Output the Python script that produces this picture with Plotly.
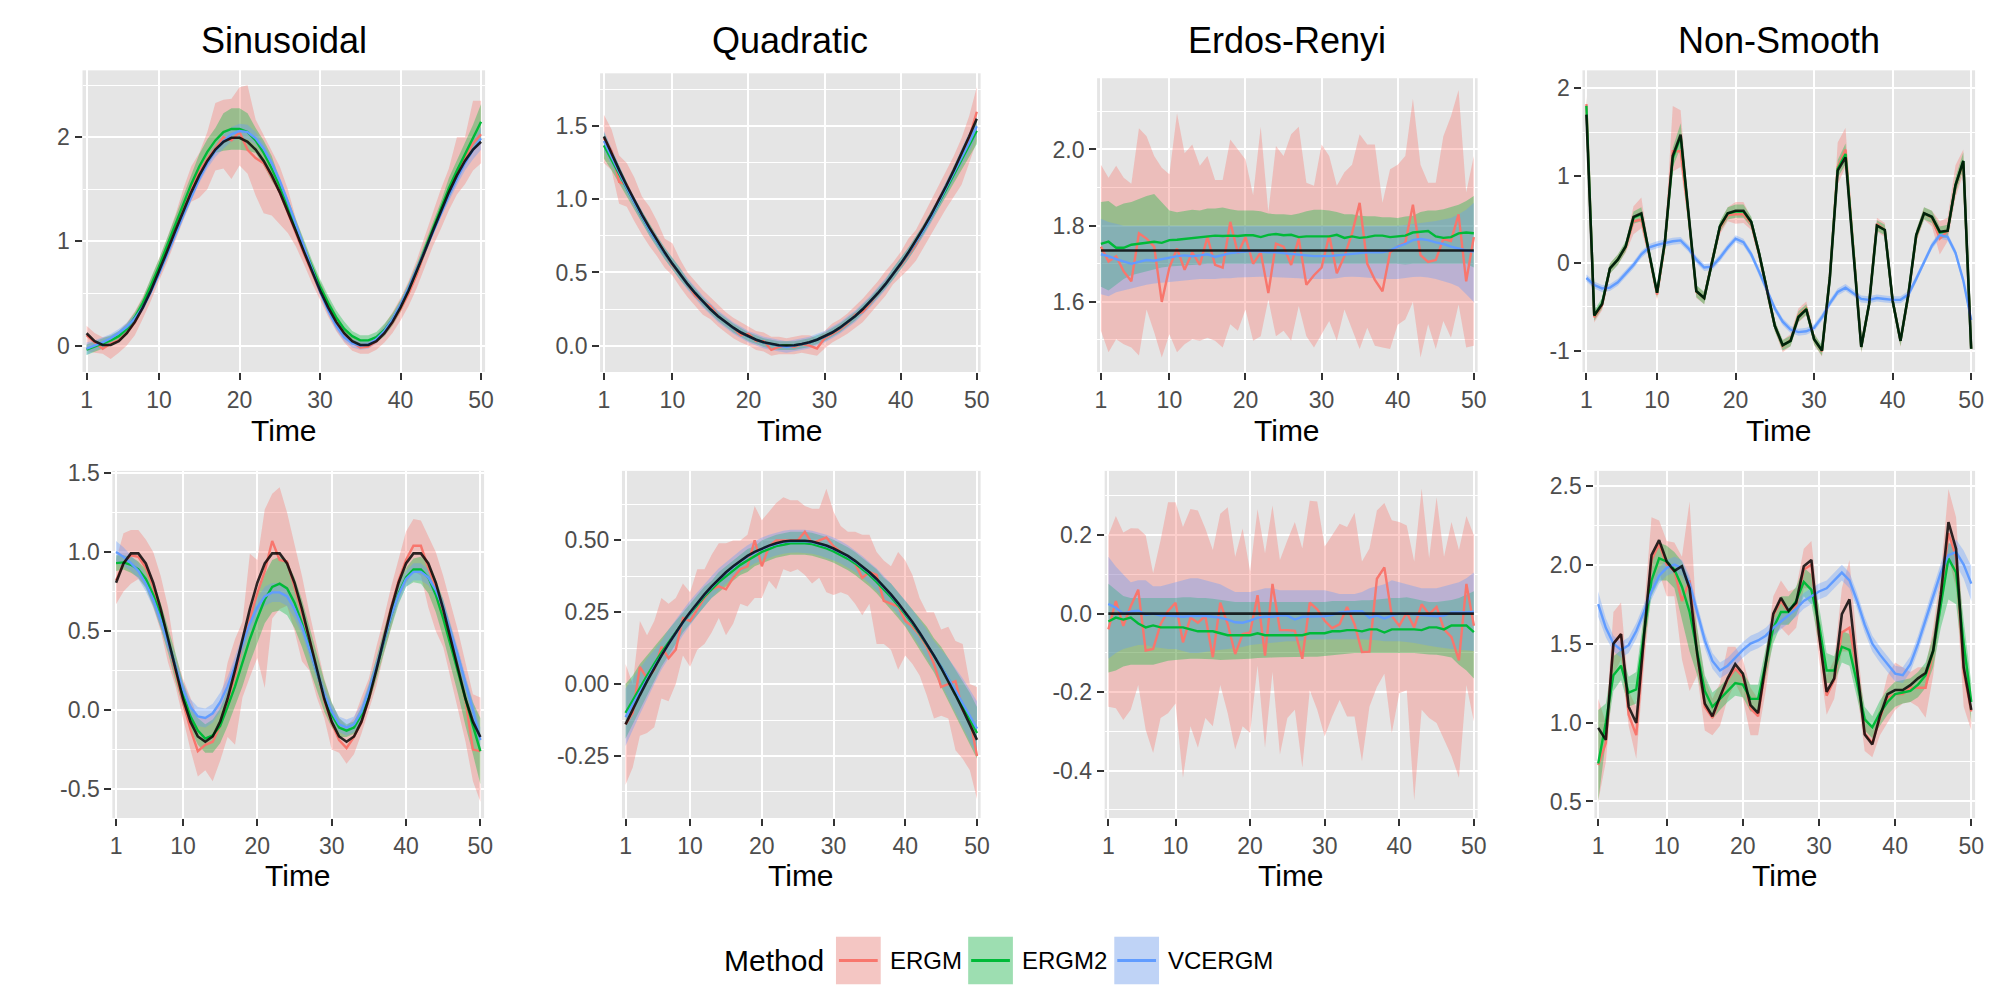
import plotly.graph_objects as go

TIME = list(range(1, 51))
X_TICKS = [1, 10, 20, 30, 40, 50]
X_TICK_TEXT = ["1", "10", "20", "30", "40", "50"]
PANEL_TITLES = ["Sinusoidal", "Quadratic", "Erdos-Renyi", "Non-Smooth"]
METHODS = ["ERGM", "ERGM2", "VCERGM"]
LEGEND_TITLE = "Method"
X_TITLE = "Time"

# ---------------- Sinusoidal (row 1) ----------------
SIN1_TRUE = [0.118,0.043,0.005,0.005,0.043,0.118,0.227,0.366,0.529,0.710,
             0.902,1.098,1.290,1.471,1.634,1.773,1.882,1.957,1.995,1.995,
             1.957,1.882,1.773,1.634,1.471,1.290,1.098,0.902,0.710,0.529,
             0.366,0.227,0.118,0.043,0.005,0.005,0.043,0.118,0.227,0.366,
             0.529,0.710,0.902,1.098,1.290,1.471,1.634,1.773,1.882,1.957]
SIN1_ERGM = [0.10,0.03,-0.03,0.02,0.05,0.12,0.22,0.37,0.55,0.73,
             0.92,1.12,1.33,1.50,1.67,1.79,1.90,2.00,1.97,2.05,
             1.88,1.80,1.75,1.62,1.47,1.28,1.08,0.88,0.70,0.52,
             0.36,0.22,0.10,0.03,-0.02,-0.01,0.04,0.12,0.22,0.35,
             0.50,0.68,0.90,1.10,1.30,1.50,1.66,1.80,1.94,2.03]
SIN1_ERGM_LO = [-0.05,-0.07,-0.08,-0.13,-0.07,0.00,0.10,0.26,0.43,0.62,
                0.80,1.00,1.20,1.38,1.42,1.50,1.68,1.70,1.60,1.73,
                1.65,1.44,1.27,1.25,1.16,1.08,0.95,0.78,0.60,0.44,
                0.28,0.14,0.03,-0.05,-0.08,-0.08,-0.04,0.03,0.12,0.24,
                0.38,0.55,0.75,0.95,1.12,1.30,1.45,1.55,1.68,1.75]
SIN1_ERGM_HI = [0.19,0.12,0.08,0.09,0.14,0.22,0.33,0.47,0.64,0.83,
                1.03,1.25,1.50,1.72,1.85,2.05,2.33,2.36,2.37,2.48,
                2.50,2.17,2.02,1.88,1.72,1.50,1.22,1.00,0.80,0.62,
                0.45,0.30,0.18,0.10,0.05,0.05,0.10,0.20,0.32,0.46,
                0.62,0.82,1.05,1.28,1.50,1.70,2.00,2.00,2.35,2.35]
SIN1_ERGM2 = [-0.04,-0.01,0.02,0.05,0.09,0.16,0.27,0.41,0.58,0.76,
              0.96,1.16,1.36,1.55,1.72,1.86,1.97,2.05,2.08,2.08,
              2.05,1.97,1.85,1.70,1.53,1.34,1.14,0.94,0.75,0.57,
              0.41,0.27,0.16,0.09,0.05,0.05,0.08,0.15,0.25,0.38,
              0.54,0.72,0.92,1.12,1.32,1.51,1.68,1.84,1.99,2.15]
SIN1_ERGM2_LO = [-0.09,-0.06,-0.03,0.00,0.04,0.11,0.22,0.36,0.51,0.69,
                 0.89,1.09,1.29,1.48,1.60,1.74,1.85,1.87,1.88,1.88,
                 1.87,1.85,1.73,1.58,1.46,1.27,1.07,0.87,0.68,0.50,
                 0.34,0.20,0.09,0.04,0.00,0.00,0.03,0.09,0.19,0.32,
                 0.48,0.66,0.86,1.06,1.26,1.41,1.58,1.74,1.86,1.98]
SIN1_ERGM2_HI = [0.01,0.04,0.07,0.10,0.14,0.21,0.32,0.46,0.65,0.83,
                 1.03,1.23,1.43,1.62,1.84,1.98,2.09,2.23,2.28,2.28,
                 2.23,2.09,1.97,1.82,1.60,1.41,1.21,1.01,0.82,0.64,
                 0.48,0.34,0.23,0.14,0.10,0.10,0.13,0.21,0.31,0.44,
                 0.60,0.78,0.98,1.18,1.38,1.61,1.78,1.94,2.12,2.32]
SIN1_VC = [-0.03,0.00,0.03,0.07,0.12,0.18,0.26,0.37,0.52,0.69,
           0.87,1.06,1.25,1.43,1.60,1.75,1.87,1.96,2.03,2.06,
           2.05,1.99,1.89,1.75,1.58,1.38,1.16,0.94,0.72,0.52,
           0.34,0.19,0.08,0.02,0.00,0.01,0.06,0.14,0.25,0.39,
           0.55,0.73,0.91,1.09,1.27,1.44,1.60,1.75,1.88,1.99]
SIN1_VC_LO = [-0.09,-0.05,-0.02,0.03,0.08,0.14,0.22,0.33,0.48,0.65,
              0.83,1.02,1.21,1.39,1.56,1.70,1.81,1.89,1.96,1.99,
              1.98,1.93,1.84,1.71,1.54,1.34,1.12,0.90,0.68,0.48,
              0.30,0.15,0.04,-0.02,-0.04,-0.03,0.02,0.10,0.21,0.35,
              0.51,0.69,0.87,1.05,1.23,1.39,1.54,1.68,1.79,1.88]
SIN1_VC_HI = [0.03,0.05,0.08,0.11,0.16,0.22,0.30,0.41,0.56,0.73,
              0.91,1.10,1.29,1.47,1.64,1.80,1.93,2.03,2.10,2.13,
              2.12,2.05,1.94,1.79,1.62,1.42,1.20,0.98,0.76,0.56,
              0.38,0.23,0.12,0.06,0.04,0.05,0.10,0.18,0.29,0.43,
              0.59,0.77,0.95,1.13,1.31,1.49,1.66,1.82,1.97,2.10]

# ---------------- Quadratic (row 1) ----------------
QUAD1_TRUE = [1.430,1.313,1.202,1.095,0.993,0.896,0.805,0.718,0.636,0.559,
              0.487,0.420,0.358,0.300,0.248,0.201,0.159,0.122,0.089,0.062,
              0.040,0.022,0.010,0.002,0.000,0.002,0.010,0.022,0.040,0.062,
              0.089,0.122,0.159,0.201,0.248,0.300,0.358,0.420,0.487,0.559,
              0.636,0.718,0.805,0.896,0.993,1.095,1.202,1.313,1.430,1.552]
QUAD1_ERGM = [1.42,1.33,1.12,1.10,0.98,0.88,0.80,0.72,0.63,0.55,
              0.49,0.42,0.34,0.30,0.27,0.20,0.16,0.12,0.07,0.08,
              0.03,0.03,-0.03,-0.01,0.00,-0.01,0.01,0.00,-0.02,0.05,
              0.08,0.11,0.15,0.21,0.23,0.29,0.36,0.42,0.49,0.55,
              0.62,0.69,0.80,0.88,1.00,1.08,1.20,1.30,1.42,1.60]
QUAD1_ERGM_LO = [1.25,1.20,0.97,0.95,0.85,0.76,0.68,0.61,0.53,0.48,
                 0.40,0.33,0.27,0.21,0.18,0.13,0.09,0.05,0.02,0.00,
                 -0.03,-0.04,-0.07,-0.06,-0.06,-0.06,-0.05,-0.06,-0.07,-0.02,
                 0.02,0.05,0.08,0.12,0.16,0.22,0.28,0.34,0.42,0.47,
                 0.52,0.58,0.68,0.76,0.85,0.94,1.02,1.10,1.25,1.40]
QUAD1_ERGM_HI = [1.58,1.48,1.30,1.25,1.15,1.02,0.95,0.85,0.73,0.70,
                 0.59,0.50,0.44,0.38,0.33,0.28,0.23,0.19,0.16,0.13,
                 0.10,0.09,0.06,0.06,0.05,0.06,0.07,0.07,0.05,0.10,
                 0.15,0.18,0.22,0.27,0.32,0.38,0.44,0.51,0.57,0.64,
                 0.73,0.79,0.89,1.00,1.10,1.20,1.30,1.42,1.57,1.77]
QUAD1_ERGM2 = [1.37,1.27,1.17,1.07,0.97,0.88,0.79,0.71,0.63,0.56,
               0.49,0.42,0.36,0.30,0.25,0.20,0.16,0.12,0.09,0.06,
               0.04,0.02,0.01,0.00,0.00,0.00,0.01,0.02,0.04,0.06,
               0.09,0.12,0.16,0.20,0.25,0.30,0.36,0.42,0.49,0.56,
               0.63,0.71,0.79,0.88,0.97,1.07,1.17,1.27,1.37,1.47]
QUAD1_ERGM2_LO = [1.28,1.20,1.11,1.02,0.93,0.84,0.75,0.67,0.59,0.52,
                  0.45,0.39,0.33,0.27,0.22,0.17,0.13,0.09,0.06,0.03,
                  0.01,-0.01,-0.02,-0.03,-0.03,-0.03,-0.02,-0.01,0.01,0.03,
                  0.06,0.09,0.13,0.17,0.22,0.27,0.33,0.39,0.45,0.52,
                  0.59,0.67,0.75,0.84,0.93,1.02,1.11,1.20,1.29,1.38]
QUAD1_ERGM2_HI = [1.46,1.34,1.23,1.12,1.01,0.92,0.83,0.75,0.67,0.60,
                  0.53,0.45,0.39,0.33,0.28,0.23,0.19,0.15,0.12,0.09,
                  0.07,0.05,0.04,0.03,0.03,0.03,0.04,0.05,0.07,0.09,
                  0.12,0.15,0.19,0.23,0.28,0.33,0.39,0.45,0.53,0.60,
                  0.67,0.75,0.83,0.92,1.01,1.12,1.23,1.34,1.45,1.56]
QUAD1_VC = [1.40,1.29,1.18,1.08,0.98,0.88,0.79,0.71,0.63,0.56,
            0.49,0.42,0.36,0.30,0.25,0.20,0.16,0.12,0.09,0.06,
            0.04,0.02,0.01,0.00,-0.01,0.00,0.01,0.02,0.04,0.06,
            0.09,0.12,0.16,0.20,0.25,0.30,0.36,0.42,0.49,0.56,
            0.63,0.71,0.79,0.88,0.98,1.08,1.18,1.29,1.39,1.50]
QUAD1_VC_LO = [1.33,1.23,1.13,1.04,0.94,0.84,0.75,0.67,0.59,0.52,
               0.45,0.38,0.32,0.26,0.21,0.16,0.12,0.08,0.05,0.02,
               0.00,-0.02,-0.03,-0.04,-0.05,-0.04,-0.03,-0.02,0.00,0.02,
               0.05,0.08,0.12,0.16,0.21,0.26,0.32,0.38,0.45,0.52,
               0.59,0.67,0.75,0.84,0.94,1.04,1.13,1.23,1.32,1.43]
QUAD1_VC_HI = [1.47,1.35,1.23,1.12,1.02,0.92,0.83,0.75,0.67,0.60,
               0.53,0.46,0.40,0.34,0.29,0.24,0.20,0.16,0.13,0.10,
               0.08,0.06,0.05,0.04,0.03,0.04,0.05,0.06,0.08,0.10,
               0.13,0.16,0.20,0.24,0.29,0.34,0.40,0.46,0.53,0.60,
               0.67,0.75,0.83,0.92,1.02,1.12,1.23,1.35,1.46,1.57]

# ---------------- Erdos-Renyi (row 1) ----------------
ER1_TRUE = [1.735,1.735,1.735,1.735,1.735,1.735,1.735,1.735,1.735,1.735,
            1.735,1.735,1.735,1.735,1.735,1.735,1.735,1.735,1.735,1.735,
            1.735,1.735,1.735,1.735,1.735,1.735,1.735,1.735,1.735,1.735,
            1.735,1.735,1.735,1.735,1.735,1.735,1.735,1.735,1.735,1.735,
            1.735,1.735,1.735,1.735,1.735,1.735,1.735,1.735,1.735,1.735]
ER1_ERGM = [1.745,1.706,1.720,1.680,1.654,1.780,1.766,1.745,1.600,1.690,
            1.740,1.684,1.730,1.697,1.770,1.697,1.690,1.810,1.727,1.770,
            1.700,1.730,1.623,1.753,1.745,1.697,1.766,1.645,1.670,1.690,
            1.775,1.675,1.720,1.780,1.860,1.700,1.658,1.628,1.730,1.745,
            1.755,1.855,1.723,1.705,1.710,1.765,1.760,1.830,1.654,1.770]
ER1_ERGM_LO = [1.524,1.468,1.502,1.489,1.480,1.459,1.580,1.520,1.454,1.515,
               1.468,1.489,1.502,1.498,1.506,1.498,1.480,1.541,1.524,1.580,
               1.498,1.510,1.606,1.510,1.524,1.498,1.589,1.510,1.480,1.515,
               1.550,1.498,1.580,1.528,1.476,1.532,1.485,1.480,1.476,1.540,
               1.554,1.600,1.454,1.541,1.476,1.550,1.506,1.593,1.480,1.485]
ER1_ERGM_HI = [1.960,1.926,1.957,1.926,1.910,2.056,2.035,1.983,1.952,1.935,
               2.095,1.990,2.013,1.957,1.983,1.920,1.920,2.026,2.000,1.974,
               1.880,2.060,1.835,2.009,1.983,2.040,2.060,1.913,1.905,2.013,
               1.983,1.905,1.940,1.960,2.040,2.013,2.013,1.860,1.948,1.960,
               1.983,2.134,1.960,1.913,1.913,2.035,2.087,2.156,1.887,1.983]
ER1_ERGM2 = [1.752,1.758,1.742,1.742,1.750,1.752,1.755,1.758,1.755,1.762,
             1.763,1.765,1.768,1.770,1.772,1.774,1.773,1.774,1.773,1.775,
             1.775,1.770,1.776,1.778,1.775,1.776,1.770,1.772,1.772,1.772,
             1.772,1.776,1.768,1.772,1.768,1.770,1.774,1.774,1.770,1.772,
             1.774,1.782,1.784,1.786,1.772,1.768,1.770,1.780,1.782,1.780]
ER1_ERGM2_LO = [1.640,1.630,1.645,1.660,1.670,1.675,1.680,1.685,1.690,1.693,
                1.695,1.695,1.697,1.698,1.700,1.700,1.700,1.700,1.700,1.700,
                1.700,1.700,1.700,1.700,1.700,1.700,1.700,1.700,1.700,1.700,
                1.700,1.700,1.700,1.700,1.700,1.700,1.700,1.700,1.700,1.700,
                1.698,1.700,1.700,1.700,1.700,1.700,1.700,1.700,1.700,1.690]
ER1_ERGM2_HI = [1.862,1.865,1.850,1.858,1.862,1.870,1.878,1.883,1.860,1.840,
                1.835,1.838,1.842,1.840,1.845,1.845,1.848,1.843,1.840,1.840,
                1.840,1.838,1.832,1.830,1.830,1.828,1.832,1.838,1.842,1.842,
                1.840,1.836,1.830,1.830,1.826,1.825,1.825,1.822,1.822,1.820,
                1.824,1.826,1.836,1.840,1.840,1.843,1.850,1.855,1.865,1.878]
ER1_VC = [1.725,1.720,1.712,1.705,1.700,1.705,1.710,1.708,1.712,1.716,
          1.720,1.722,1.720,1.722,1.725,1.718,1.722,1.728,1.730,1.732,
          1.734,1.732,1.730,1.730,1.728,1.726,1.724,1.722,1.720,1.720,
          1.720,1.722,1.724,1.726,1.728,1.730,1.730,1.730,1.735,1.745,
          1.752,1.762,1.765,1.762,1.756,1.752,1.745,1.740,1.735,1.732]
ER1_VC_LO = [1.620,1.615,1.625,1.630,1.635,1.640,1.645,1.648,1.650,1.652,
             1.655,1.656,1.658,1.660,1.660,1.660,1.662,1.662,1.664,1.665,
             1.665,1.666,1.666,1.665,1.664,1.663,1.662,1.660,1.660,1.660,
             1.660,1.662,1.665,1.666,1.665,1.664,1.662,1.660,1.660,1.660,
             1.662,1.665,1.666,1.664,1.660,1.655,1.648,1.640,1.620,1.600]
ER1_VC_HI = [1.818,1.810,1.805,1.800,1.800,1.800,1.800,1.800,1.800,1.800,
             1.800,1.800,1.800,1.800,1.800,1.800,1.800,1.800,1.800,1.800,
             1.800,1.800,1.800,1.800,1.800,1.800,1.800,1.800,1.800,1.800,
             1.800,1.800,1.800,1.800,1.800,1.800,1.800,1.800,1.800,1.800,
             1.802,1.805,1.808,1.810,1.812,1.815,1.820,1.830,1.842,1.860]

# ---------------- Non-Smooth (row 1) ----------------
NS1_TRUE = [1.70,-0.60,-0.47,-0.06,0.04,0.19,0.53,0.57,0.11,-0.34,
            0.25,1.23,1.47,0.57,-0.32,-0.40,0.02,0.42,0.57,0.60,
            0.60,0.47,0.11,-0.32,-0.72,-0.94,-0.89,-0.62,-0.53,-0.87,
            -1.00,-0.17,1.06,1.21,0.13,-0.96,-0.47,0.43,0.38,-0.43,
            -0.89,-0.36,0.32,0.57,0.53,0.36,0.37,0.89,1.17,-0.98]
NS1_ERGM = [1.82,-0.62,-0.48,-0.06,0.04,0.18,0.48,0.50,0.10,-0.36,
            0.22,1.28,1.28,0.55,-0.33,-0.40,0.02,0.40,0.55,0.56,
            0.56,0.45,0.10,-0.33,-0.72,-0.95,-0.88,-0.60,-0.52,-0.87,
            -1.01,-0.16,1.10,1.30,0.14,-0.96,-0.47,0.45,0.38,-0.43,
            -0.89,-0.37,0.31,0.57,0.52,0.28,0.37,0.88,1.15,-0.98]
NS1_ERGM_LO = [1.72,-0.68,-0.54,-0.12,-0.02,0.12,0.33,0.40,0.03,-0.43,
               0.14,1.05,1.10,0.45,-0.40,-0.47,-0.05,0.33,0.48,0.45,
               0.46,0.38,0.03,-0.40,-0.78,-1.02,-0.95,-0.68,-0.60,-0.94,
               -1.07,-0.23,0.90,1.10,0.06,-1.03,-0.54,0.36,0.30,-0.50,
               -0.96,-0.44,0.24,0.50,0.42,0.10,0.25,0.75,1.02,-1.04]
NS1_ERGM_HI = [1.92,-0.56,-0.42,0.00,0.10,0.24,0.65,0.75,0.17,-0.29,
               0.30,1.80,1.75,0.65,-0.26,-0.33,0.09,0.47,0.64,0.70,
               0.70,0.52,0.17,-0.26,-0.66,-0.88,-0.81,-0.52,-0.44,-0.80,
               -0.95,-0.09,1.38,1.55,0.22,-0.89,-0.40,0.52,0.46,-0.36,
               -0.82,-0.30,0.38,0.64,0.60,0.48,0.52,1.12,1.30,-0.92]
NS1_ERGM2 = [1.80,-0.60,-0.46,-0.06,0.04,0.19,0.52,0.56,0.11,-0.34,
             0.24,1.20,1.45,0.56,-0.32,-0.40,0.02,0.42,0.57,0.59,
             0.59,0.47,0.11,-0.32,-0.72,-0.94,-0.89,-0.61,-0.53,-0.87,
             -1.00,-0.17,1.08,1.25,0.13,-0.96,-0.47,0.43,0.38,-0.43,
             -0.89,-0.36,0.32,0.57,0.53,0.35,0.37,0.89,1.17,-0.98]
NS1_ERGM2_LO = [1.70,-0.66,-0.52,-0.12,-0.02,0.13,0.45,0.48,0.05,-0.40,
                0.18,1.10,1.32,0.49,-0.39,-0.47,-0.04,0.36,0.50,0.52,
                0.52,0.41,0.05,-0.38,-0.78,-1.00,-0.95,-0.67,-0.59,-0.93,
                -1.06,-0.23,0.98,1.13,0.07,-1.02,-0.53,0.37,0.32,-0.49,
                -0.95,-0.42,0.26,0.50,0.46,0.28,0.30,0.80,1.07,-1.04]
NS1_ERGM2_HI = [1.90,-0.54,-0.40,0.00,0.10,0.25,0.59,0.64,0.17,-0.28,
                0.30,1.32,1.60,0.63,-0.25,-0.33,0.08,0.48,0.64,0.67,
                0.67,0.53,0.17,-0.26,-0.66,-0.88,-0.83,-0.55,-0.47,-0.81,
                -0.94,-0.11,1.18,1.37,0.19,-0.90,-0.41,0.49,0.44,-0.37,
                -0.83,-0.30,0.38,0.64,0.60,0.42,0.44,0.98,1.27,-0.92]
NS1_VC = [-0.17,-0.25,-0.29,-0.28,-0.22,-0.12,-0.02,0.10,0.18,0.21,
          0.23,0.25,0.26,0.17,0.04,-0.05,-0.04,0.06,0.18,0.28,
          0.24,0.10,-0.10,-0.32,-0.52,-0.67,-0.76,-0.79,-0.78,-0.74,
          -0.62,-0.46,-0.33,-0.28,-0.34,-0.41,-0.42,-0.40,-0.41,-0.42,
          -0.42,-0.36,-0.18,0.02,0.20,0.32,0.30,0.12,-0.20,-0.65]
NS1_VC_LO = [-0.21,-0.29,-0.33,-0.32,-0.26,-0.16,-0.06,0.06,0.14,0.17,
             0.19,0.21,0.22,0.13,0.00,-0.09,-0.08,0.02,0.14,0.24,
             0.20,0.06,-0.14,-0.36,-0.56,-0.71,-0.80,-0.83,-0.82,-0.78,
             -0.66,-0.50,-0.37,-0.32,-0.38,-0.45,-0.46,-0.44,-0.45,-0.46,
             -0.46,-0.40,-0.22,-0.02,0.16,0.28,0.26,0.08,-0.24,-0.70]
NS1_VC_HI = [-0.13,-0.21,-0.25,-0.24,-0.18,-0.08,0.02,0.14,0.22,0.25,
             0.27,0.29,0.30,0.21,0.08,-0.01,0.00,0.10,0.22,0.32,
             0.28,0.14,-0.06,-0.28,-0.48,-0.63,-0.72,-0.75,-0.74,-0.70,
             -0.58,-0.42,-0.29,-0.24,-0.30,-0.37,-0.38,-0.36,-0.37,-0.38,
             -0.38,-0.32,-0.14,0.06,0.24,0.36,0.34,0.16,-0.16,-0.60]

# ---------------- Sinusoidal (row 2) ----------------
SIN2_TRUE = [0.806,0.928,0.992,0.992,0.928,0.806,0.641,0.450,0.253,0.072,
             -0.073,-0.167,-0.200,-0.167,-0.073,0.072,0.253,0.450,0.641,0.806,
             0.928,0.992,0.992,0.928,0.806,0.641,0.450,0.253,0.072,-0.073,
             -0.167,-0.200,-0.167,-0.073,0.072,0.253,0.450,0.641,0.806,0.928,
             0.992,0.992,0.928,0.806,0.641,0.450,0.253,0.072,-0.073,-0.170]
SIN2_ERGM = [0.82,0.93,0.98,0.97,0.90,0.78,0.62,0.43,0.24,0.05,
             -0.12,-0.26,-0.22,-0.20,-0.10,0.06,0.22,0.42,0.58,0.74,
             0.88,1.07,0.95,0.94,0.78,0.62,0.45,0.25,0.06,-0.08,
             -0.19,-0.24,-0.17,-0.08,0.07,0.25,0.45,0.65,0.82,0.95,
             1.04,1.04,0.90,0.78,0.62,0.43,0.24,0.06,-0.25,-0.26]
SIN2_ERGM_LO = [0.67,0.75,0.80,0.83,0.78,0.65,0.50,0.30,0.15,-0.05,
                -0.25,-0.42,-0.38,-0.45,-0.32,-0.17,-0.22,0.08,0.21,0.33,
                0.14,0.58,0.64,0.66,0.50,0.31,0.25,0.08,-0.05,-0.25,
                -0.27,-0.34,-0.28,-0.15,0.00,0.15,0.35,0.52,0.70,0.80,
                0.88,0.85,0.65,0.50,0.40,0.20,0.00,-0.20,-0.45,-0.58]
SIN2_ERGM_HI = [0.95,1.12,1.14,1.14,1.08,1.00,0.85,0.65,0.35,0.20,
                0.08,-0.05,-0.05,-0.02,0.05,0.30,0.45,0.56,0.99,0.95,
                1.27,1.37,1.41,1.25,1.05,0.85,0.62,0.42,0.20,0.05,
                -0.05,-0.10,-0.05,0.08,0.20,0.40,0.58,0.78,0.95,1.13,
                1.21,1.20,1.10,1.00,0.85,0.68,0.50,0.30,0.10,0.08]
SIN2_ERGM2 = [0.93,0.935,0.92,0.89,0.83,0.73,0.60,0.44,0.27,0.10,
              -0.04,-0.13,-0.18,-0.16,-0.10,0.02,0.15,0.30,0.45,0.58,
              0.70,0.78,0.80,0.77,0.68,0.55,0.40,0.24,0.09,-0.03,
              -0.11,-0.13,-0.11,-0.03,0.10,0.26,0.43,0.60,0.74,0.84,
              0.89,0.89,0.84,0.73,0.58,0.41,0.24,0.06,-0.10,-0.26]
SIN2_ERGM2_LO = [0.88,0.89,0.87,0.84,0.77,0.66,0.52,0.36,0.18,0.02,
                 -0.12,-0.22,-0.27,-0.27,-0.21,-0.10,0.02,0.15,0.30,0.43,
                 0.55,0.62,0.63,0.60,0.52,0.40,0.27,0.13,-0.01,-0.11,
                 -0.17,-0.17,-0.15,-0.08,0.04,0.19,0.35,0.52,0.67,0.78,
                 0.81,0.80,0.74,0.62,0.46,0.28,0.10,-0.10,-0.28,-0.47]
SIN2_ERGM2_HI = [0.98,0.98,0.97,0.94,0.89,0.80,0.68,0.52,0.36,0.18,
                 0.04,-0.05,-0.09,-0.06,0.01,0.13,0.28,0.45,0.60,0.73,
                 0.86,0.95,0.97,0.94,0.84,0.70,0.53,0.35,0.19,0.05,
                 -0.05,-0.09,-0.07,0.02,0.16,0.33,0.51,0.68,0.81,0.90,
                 0.96,0.97,0.93,0.83,0.70,0.54,0.37,0.20,0.05,-0.05]
SIN2_VC = [1.00,0.97,0.93,0.88,0.80,0.70,0.57,0.42,0.27,0.13,
           0.02,-0.04,-0.05,-0.02,0.05,0.15,0.28,0.42,0.55,0.65,
           0.72,0.745,0.745,0.72,0.64,0.53,0.39,0.24,0.10,-0.01,
           -0.09,-0.11,-0.09,-0.01,0.12,0.27,0.44,0.60,0.73,0.83,
           0.875,0.875,0.84,0.76,0.65,0.50,0.34,0.17,0.00,-0.19]
SIN2_VC_LO = [0.93,0.91,0.88,0.83,0.75,0.65,0.52,0.37,0.22,0.08,
              -0.03,-0.10,-0.11,-0.08,-0.01,0.09,0.22,0.36,0.49,0.59,
              0.66,0.685,0.685,0.66,0.58,0.48,0.34,0.19,0.05,-0.06,
              -0.14,-0.16,-0.14,-0.06,0.07,0.22,0.39,0.55,0.68,0.78,
              0.82,0.82,0.79,0.71,0.60,0.45,0.29,0.12,-0.06,-0.27]
SIN2_VC_HI = [1.07,1.03,0.98,0.93,0.85,0.75,0.62,0.47,0.32,0.18,
              0.07,0.02,0.01,0.04,0.11,0.21,0.34,0.48,0.61,0.71,
              0.78,0.805,0.805,0.78,0.70,0.58,0.44,0.29,0.15,0.04,
              -0.04,-0.06,-0.04,0.04,0.17,0.32,0.49,0.65,0.78,0.88,
              0.93,0.93,0.89,0.81,0.70,0.55,0.39,0.22,0.06,-0.11]

# ---------------- Quadratic (row 2) ----------------
QUAD2_TRUE = [-0.140,-0.088,-0.038,0.010,0.056,0.099,0.140,0.179,0.216,0.250,
              0.282,0.312,0.340,0.366,0.389,0.410,0.429,0.446,0.460,0.472,
              0.482,0.490,0.496,0.499,0.500,0.499,0.496,0.490,0.482,0.472,
              0.460,0.446,0.429,0.410,0.389,0.366,0.340,0.312,0.282,0.250,
              0.216,0.179,0.140,0.099,0.056,0.010,-0.038,-0.088,-0.140,-0.194]
QUAD2_ERGM = [-0.14,-0.10,0.06,0.02,0.05,0.13,0.09,0.12,0.23,0.22,
              0.26,0.30,0.33,0.34,0.33,0.37,0.40,0.41,0.50,0.41,
              0.48,0.50,0.50,0.50,0.50,0.53,0.49,0.50,0.51,0.48,
              0.46,0.44,0.42,0.37,0.39,0.38,0.29,0.28,0.27,0.22,
              0.20,0.17,0.13,0.07,-0.01,0.00,0.01,-0.09,-0.12,-0.25]
QUAD2_ERGM_LO = [-0.35,-0.29,-0.18,-0.17,-0.15,-0.05,-0.06,0.00,0.10,0.06,
                 0.12,0.14,0.18,0.23,0.17,0.21,0.28,0.27,0.30,0.30,
                 0.36,0.33,0.40,0.39,0.40,0.38,0.35,0.37,0.32,0.31,
                 0.32,0.31,0.28,0.24,0.28,0.14,0.14,0.12,0.05,0.10,
                 0.07,0.03,-0.04,-0.12,-0.11,-0.12,-0.23,-0.26,-0.30,-0.40]
QUAD2_ERGM_HI = [0.07,0.00,0.22,0.17,0.22,0.30,0.28,0.30,0.35,0.32,
                 0.40,0.40,0.45,0.49,0.49,0.50,0.50,0.52,0.62,0.57,
                 0.60,0.63,0.65,0.64,0.64,0.62,0.61,0.61,0.68,0.60,
                 0.55,0.53,0.53,0.52,0.52,0.46,0.43,0.41,0.46,0.43,
                 0.38,0.30,0.25,0.25,0.19,0.20,0.15,0.14,0.00,-0.01]
QUAD2_ERGM2 = [-0.10,-0.055,-0.01,0.03,0.07,0.11,0.145,0.18,0.215,0.245,
               0.275,0.305,0.33,0.355,0.375,0.395,0.415,0.43,0.445,0.46,
               0.47,0.48,0.485,0.49,0.49,0.49,0.487,0.48,0.472,0.462,
               0.45,0.436,0.42,0.40,0.38,0.356,0.33,0.303,0.274,0.243,
               0.21,0.175,0.138,0.10,0.06,0.018,-0.028,-0.073,-0.12,-0.17]
QUAD2_ERGM2_LO = [-0.19,-0.14,-0.09,-0.04,0.01,0.06,0.10,0.14,0.18,0.21,
                  0.24,0.27,0.30,0.32,0.34,0.36,0.38,0.39,0.41,0.42,
                  0.43,0.44,0.445,0.45,0.45,0.45,0.447,0.44,0.432,0.422,
                  0.41,0.396,0.38,0.36,0.34,0.316,0.29,0.26,0.23,0.20,
                  0.16,0.12,0.08,0.04,-0.01,-0.06,-0.11,-0.16,-0.21,-0.26]
QUAD2_ERGM2_HI = [0.00,0.03,0.07,0.10,0.13,0.16,0.19,0.22,0.25,0.28,
                  0.31,0.34,0.36,0.39,0.41,0.43,0.45,0.47,0.48,0.50,
                  0.51,0.52,0.525,0.53,0.53,0.53,0.527,0.52,0.512,0.502,
                  0.49,0.476,0.46,0.44,0.42,0.40,0.37,0.35,0.32,0.29,
                  0.26,0.23,0.20,0.16,0.13,0.09,0.05,0.01,-0.03,-0.08]
QUAD2_VC = [-0.115,-0.07,-0.025,0.02,0.06,0.10,0.14,0.178,0.214,0.248,
            0.28,0.31,0.338,0.364,0.387,0.408,0.427,0.444,0.458,0.47,
            0.48,0.488,0.494,0.497,0.498,0.497,0.494,0.488,0.48,0.47,
            0.458,0.444,0.427,0.408,0.387,0.364,0.338,0.31,0.28,0.248,
            0.214,0.178,0.14,0.10,0.06,0.02,-0.022,-0.065,-0.11,-0.155]
QUAD2_VC_LO = [-0.215,-0.16,-0.105,-0.05,0.00,0.05,0.09,0.13,0.17,0.205,
               0.24,0.27,0.30,0.325,0.35,0.37,0.39,0.405,0.42,0.43,
               0.44,0.448,0.454,0.457,0.458,0.457,0.454,0.448,0.44,0.43,
               0.42,0.405,0.39,0.37,0.35,0.325,0.30,0.27,0.24,0.205,
               0.17,0.13,0.09,0.05,0.00,-0.05,-0.10,-0.15,-0.20,-0.25]
QUAD2_VC_HI = [-0.015,0.02,0.055,0.09,0.12,0.15,0.19,0.226,0.258,0.291,
               0.32,0.35,0.376,0.403,0.424,0.446,0.465,0.483,0.498,0.51,
               0.52,0.528,0.534,0.537,0.538,0.537,0.534,0.528,0.52,0.51,
               0.498,0.483,0.465,0.446,0.424,0.403,0.376,0.35,0.32,0.291,
               0.258,0.226,0.19,0.15,0.12,0.09,0.055,0.02,-0.02,-0.06]

# ---------------- Erdos-Renyi (row 2) ----------------
ER2_TRUE = [0.0,0.0,0.0,0.0,0.0,0.0,0.0,0.0,0.0,0.0,
            0.0,0.0,0.0,0.0,0.0,0.0,0.0,0.0,0.0,0.0,
            0.0,0.0,0.0,0.0,0.0,0.0,0.0,0.0,0.0,0.0,
            0.0,0.0,0.0,0.0,0.0,0.0,0.0,0.0,0.0,0.0,
            0.0,0.0,0.0,0.0,0.0,0.0,0.0,0.0,0.0,0.0]
ER2_ERGM = [-0.040,0.032,-0.031,0.019,0.061,-0.094,-0.090,-0.027,0.007,0.028,
            -0.073,-0.010,-0.023,-0.006,-0.111,0.028,-0.027,-0.103,-0.052,-0.048,
            0.047,-0.107,0.076,-0.042,-0.042,-0.044,-0.115,0.028,0.011,-0.018,
            -0.037,-0.027,0.017,-0.027,-0.098,-0.097,0.089,0.118,-0.006,-0.031,
            0.003,-0.035,0.024,-0.002,0.017,-0.040,-0.060,-0.119,0.076,-0.031]
ER2_ERGM_LO = [-0.237,-0.241,-0.271,-0.245,-0.182,-0.296,-0.355,-0.266,-0.254,-0.229,
               -0.418,-0.287,-0.342,-0.266,-0.287,-0.182,-0.254,-0.346,-0.287,-0.304,
               -0.132,-0.342,-0.149,-0.359,-0.266,-0.245,-0.392,-0.195,-0.245,-0.313,
               -0.262,-0.220,-0.262,-0.262,-0.376,-0.237,-0.187,-0.153,-0.304,-0.203,
               -0.195,-0.476,-0.245,-0.266,-0.279,-0.321,-0.363,-0.418,-0.182,-0.275]
ER2_ERGM_HI = [0.200,0.249,0.207,0.218,0.217,0.200,0.103,0.187,0.284,0.284,
               0.221,0.267,0.263,0.217,0.162,0.255,0.271,0.145,0.217,0.108,
               0.266,0.154,0.276,0.137,0.187,0.234,0.166,0.288,0.286,0.171,
               0.200,0.229,0.221,0.257,0.133,0.166,0.263,0.282,0.238,0.234,
               0.225,0.133,0.319,0.141,0.297,0.145,0.234,0.162,0.249,0.200]
ER2_ERGM2 = [-0.020,-0.010,-0.015,-0.010,-0.025,-0.035,-0.030,-0.035,-0.035,-0.035,
             -0.035,-0.040,-0.045,-0.045,-0.045,-0.050,-0.055,-0.055,-0.055,-0.055,
             -0.050,-0.055,-0.055,-0.055,-0.055,-0.055,-0.055,-0.050,-0.050,-0.050,
             -0.045,-0.045,-0.042,-0.042,-0.045,-0.040,-0.040,-0.048,-0.040,-0.040,
             -0.040,-0.040,-0.042,-0.035,-0.035,-0.040,-0.030,-0.030,-0.030,-0.047]
ER2_ERGM2_LO = [-0.150,-0.145,-0.135,-0.130,-0.130,-0.130,-0.130,-0.125,-0.120,-0.118,
                -0.116,-0.115,-0.115,-0.115,-0.116,-0.118,-0.118,-0.117,-0.116,-0.115,
                -0.113,-0.112,-0.112,-0.111,-0.110,-0.110,-0.110,-0.110,-0.110,-0.108,
                -0.106,-0.104,-0.102,-0.100,-0.100,-0.100,-0.100,-0.100,-0.100,-0.100,
                -0.100,-0.100,-0.102,-0.104,-0.105,-0.108,-0.112,-0.130,-0.145,-0.165]
ER2_ERGM2_HI = [0.076,0.060,0.045,0.040,0.040,0.040,0.040,0.040,0.040,0.040,
                0.042,0.042,0.040,0.040,0.038,0.035,0.032,0.030,0.030,0.030,
                0.030,0.030,0.030,0.030,0.030,0.030,0.030,0.030,0.030,0.030,
                0.032,0.032,0.032,0.032,0.034,0.034,0.036,0.038,0.040,0.040,
                0.042,0.038,0.034,0.030,0.030,0.032,0.035,0.040,0.048,0.057]
ER2_VC = [0.025,0.015,0.000,0.005,0.008,-0.003,0.000,-0.005,-0.005,-0.007,
          -0.008,-0.006,-0.006,-0.006,-0.008,-0.010,-0.015,-0.022,-0.023,-0.018,
          -0.010,-0.008,-0.008,-0.005,-0.005,-0.015,-0.008,-0.007,-0.007,-0.007,
          -0.003,0.003,0.005,0.006,0.006,-0.010,-0.005,-0.012,-0.005,0.000,
          0.000,-0.002,-0.003,-0.005,-0.007,-0.005,0.003,0.003,0.003,0.005]
ER2_VC_LO = [-0.115,-0.100,-0.090,-0.085,-0.080,-0.080,-0.085,-0.088,-0.090,-0.090,
             -0.095,-0.100,-0.100,-0.098,-0.095,-0.092,-0.090,-0.088,-0.085,-0.080,
             -0.078,-0.076,-0.074,-0.072,-0.070,-0.070,-0.068,-0.066,-0.065,-0.065,
             -0.065,-0.065,-0.065,-0.065,-0.065,-0.066,-0.068,-0.070,-0.070,-0.070,
             -0.072,-0.075,-0.078,-0.082,-0.085,-0.088,-0.090,-0.092,-0.094,-0.095]
ER2_VC_HI = [0.145,0.120,0.100,0.080,0.085,0.085,0.070,0.070,0.075,0.080,
             0.085,0.090,0.090,0.085,0.080,0.075,0.065,0.055,0.055,0.055,
             0.060,0.065,0.065,0.060,0.060,0.060,0.060,0.060,0.060,0.060,
             0.055,0.050,0.050,0.050,0.055,0.065,0.070,0.075,0.085,0.080,
             0.075,0.070,0.065,0.065,0.065,0.070,0.075,0.080,0.090,0.105]

# ---------------- Non-Smooth (row 2) ----------------
NS2_TRUE = [0.966,0.890,1.500,1.560,1.100,0.997,1.540,2.060,2.155,2.020,
            1.960,1.990,1.850,1.435,1.120,1.040,1.164,1.280,1.370,1.310,
            1.110,1.060,1.373,1.690,1.790,1.707,1.760,1.990,2.030,1.560,
            1.195,1.280,1.686,1.780,1.340,0.924,0.861,1.040,1.180,1.206,
            1.206,1.237,1.280,1.314,1.456,1.810,2.270,2.100,1.350,1.080]
NS2_ERGM = [0.73,0.87,1.50,1.56,1.05,0.92,1.52,2.03,2.13,2.00,
            1.96,1.77,1.90,1.43,1.10,1.03,1.15,1.27,1.34,1.29,
            1.09,1.04,1.35,1.68,1.77,1.70,1.74,1.97,2.00,1.56,
            1.17,1.27,1.57,1.60,1.33,0.93,0.87,1.03,1.16,1.18,
            1.18,1.22,1.22,1.22,1.45,1.79,2.20,2.05,1.32,1.07]
NS2_ERGM_LO = [0.50,0.75,1.30,1.40,0.98,0.77,1.35,1.85,1.95,1.80,
               1.80,1.40,1.20,1.30,0.95,0.92,0.98,1.15,1.25,1.15,
               0.92,0.92,1.20,1.55,1.60,1.55,1.60,1.85,1.85,1.40,
               1.05,1.15,1.45,1.45,1.20,0.82,0.78,0.92,1.00,1.08,
               1.12,1.13,1.10,1.03,1.30,1.70,2.05,1.85,1.10,0.95]
NS2_ERGM_HI = [1.15,1.00,1.70,1.76,1.20,1.10,1.70,2.30,2.28,2.15,
               2.14,2.05,2.40,1.60,1.28,1.15,1.25,1.48,1.48,1.40,
               1.22,1.15,1.45,1.80,1.90,1.83,1.85,2.10,2.15,1.70,
               1.30,1.40,1.85,2.03,1.50,1.05,0.95,1.10,1.30,1.38,
               1.35,1.32,1.35,1.35,1.60,1.95,2.48,2.30,1.55,1.20]
NS2_ERGM2 = [0.74,1.00,1.30,1.36,1.19,1.21,1.56,1.90,2.04,2.02,
             1.97,1.86,1.70,1.45,1.20,1.10,1.15,1.20,1.25,1.24,
             1.15,1.15,1.38,1.60,1.70,1.70,1.77,1.89,1.84,1.62,
             1.33,1.33,1.48,1.46,1.25,1.02,0.97,1.06,1.13,1.18,
             1.19,1.20,1.24,1.30,1.45,1.75,2.04,1.95,1.50,1.13]
NS2_ERGM2_LO = [0.50,0.88,1.20,1.27,1.10,1.12,1.45,1.80,1.90,1.90,
                1.85,1.65,1.45,1.30,1.10,1.02,1.08,1.13,1.17,1.16,
                1.07,1.07,1.28,1.50,1.62,1.62,1.68,1.80,1.75,1.50,
                1.25,1.25,1.38,1.36,1.15,0.95,0.90,0.98,1.05,1.10,
                1.12,1.13,1.16,1.22,1.35,1.60,1.78,1.75,1.35,1.00]
NS2_ERGM2_HI = [1.08,1.12,1.42,1.46,1.29,1.32,1.68,2.02,2.14,2.12,
                2.08,2.02,1.90,1.60,1.30,1.19,1.23,1.28,1.34,1.32,
                1.24,1.24,1.48,1.70,1.80,1.80,1.86,1.98,1.94,1.74,
                1.44,1.42,1.58,1.56,1.36,1.10,1.04,1.14,1.21,1.26,
                1.27,1.28,1.32,1.38,1.55,1.88,2.14,2.10,1.65,1.25]
NS2_VC = [1.75,1.60,1.50,1.46,1.49,1.58,1.70,1.83,1.93,1.98,
          2.00,1.98,1.88,1.70,1.52,1.39,1.33,1.36,1.41,1.46,
          1.50,1.52,1.55,1.60,1.64,1.68,1.72,1.77,1.80,1.83,
          1.85,1.90,1.95,1.90,1.77,1.62,1.50,1.43,1.37,1.31,
          1.30,1.37,1.50,1.65,1.80,1.95,2.06,2.08,2.00,1.88]
NS2_VC_LO = [1.67,1.54,1.45,1.41,1.44,1.53,1.65,1.78,1.88,1.93,
             1.95,1.93,1.83,1.65,1.47,1.34,1.28,1.31,1.36,1.41,
             1.45,1.47,1.50,1.55,1.59,1.63,1.67,1.72,1.75,1.78,
             1.80,1.85,1.90,1.85,1.72,1.57,1.45,1.38,1.32,1.26,
             1.25,1.32,1.45,1.60,1.75,1.89,1.99,2.00,1.91,1.77]
NS2_VC_HI = [1.83,1.66,1.55,1.51,1.54,1.63,1.75,1.88,1.98,2.03,
             2.05,2.03,1.93,1.75,1.57,1.44,1.38,1.41,1.46,1.51,
             1.55,1.57,1.60,1.65,1.69,1.73,1.77,1.82,1.85,1.88,
             1.90,1.95,2.00,1.95,1.82,1.67,1.55,1.48,1.42,1.36,
             1.35,1.42,1.55,1.70,1.85,2.01,2.13,2.16,2.09,1.99]

# ---------------- y-axis tick labels ----------------
SIN1_YTICKS = [0, 1, 2];              SIN1_YTEXT = ["0", "1", "2"]
QUAD1_YTICKS = [0, 0.5, 1.0, 1.5];    QUAD1_YTEXT = ["0.0", "0.5", "1.0", "1.5"]
ER1_YTICKS = [1.6, 1.8, 2.0];         ER1_YTEXT = ["1.6", "1.8", "2.0"]
NS1_YTICKS = [-1, 0, 1, 2];           NS1_YTEXT = ["-1", "0", "1", "2"]
SIN2_YTICKS = [-0.5, 0, 0.5, 1.0, 1.5]; SIN2_YTEXT = ["-0.5", "0.0", "0.5", "1.0", "1.5"]
QUAD2_YTICKS = [-0.25, 0, 0.25, 0.5]; QUAD2_YTEXT = ["-0.25", "0.00", "0.25", "0.50"]
ER2_YTICKS = [-0.4, -0.2, 0, 0.2];    ER2_YTEXT = ["-0.4", "-0.2", "0.0", "0.2"]
NS2_YTICKS = [0.5, 1.0, 1.5, 2.0, 2.5]; NS2_YTEXT = ["0.5", "1.0", "1.5", "2.0", "2.5"]

# ---------------- styling / layout ----------------
W, H = 2000, 1000
FONT = "Liberation Sans, Arial, Helvetica, sans-serif"
LINE_COLORS = ["#F8766D", "#00BA38", "#619CFF"]
BAND_COLORS = ["rgba(248,118,109,0.35)", "rgba(0,186,56,0.35)", "rgba(97,156,255,0.35)"]
TRUE_COLOR = "rgba(0,0,0,0.82)"

panels = [
    dict(d=[SIN1_TRUE, SIN1_ERGM, SIN1_ERGM_LO, SIN1_ERGM_HI, SIN1_ERGM2, SIN1_ERGM2_LO, SIN1_ERGM2_HI, SIN1_VC, SIN1_VC_LO, SIN1_VC_HI],
         yt=SIN1_YTICKS, ytx=SIN1_YTEXT, minor=[0.5, 1.5, 2.5], yr=[-0.254, 2.643], box=(80, 485, 60, 365)),
    dict(d=[QUAD1_TRUE, QUAD1_ERGM, QUAD1_ERGM_LO, QUAD1_ERGM_HI, QUAD1_ERGM2, QUAD1_ERGM2_LO, QUAD1_ERGM2_HI, QUAD1_VC, QUAD1_VC_LO, QUAD1_VC_HI],
         yt=QUAD1_YTICKS, ytx=QUAD1_YTEXT, minor=[0.25, 0.75, 1.25, 1.75], yr=[-0.181, 1.863], box=(600.7, 983.5, 63, 365)),
    dict(d=[ER1_TRUE, ER1_ERGM, ER1_ERGM_LO, ER1_ERGM_HI, ER1_ERGM2, ER1_ERGM2_LO, ER1_ERGM2_HI, ER1_VC, ER1_VC_LO, ER1_VC_HI],
         yt=ER1_YTICKS, ytx=ER1_YTEXT, minor=[1.5, 1.7, 1.9, 2.1], yr=[1.416, 2.187], box=(1100.7, 1483.5, 68, 365)),
    dict(d=[NS1_TRUE, NS1_ERGM, NS1_ERGM_LO, NS1_ERGM_HI, NS1_ERGM2, NS1_ERGM2_LO, NS1_ERGM2_HI, NS1_VC, NS1_VC_LO, NS1_VC_HI],
         yt=NS1_YTICKS, ytx=NS1_YTEXT, minor=[-0.5, 0.5, 1.5], yr=[-1.246, 2.207], box=(1589, 1984, 60, 365)),
    dict(d=[SIN2_TRUE, SIN2_ERGM, SIN2_ERGM_LO, SIN2_ERGM_HI, SIN2_ERGM2, SIN2_ERGM2_LO, SIN2_ERGM2_HI, SIN2_VC, SIN2_VC_LO, SIN2_VC_HI],
         yt=SIN2_YTICKS, ytx=SIN2_YTEXT, minor=[-0.25, 0.25, 0.75, 1.25], yr=[-0.683, 1.514], box=(110, 484, 465, 816)),
    dict(d=[QUAD2_TRUE, QUAD2_ERGM, QUAD2_ERGM_LO, QUAD2_ERGM_HI, QUAD2_ERGM2, QUAD2_ERGM2_LO, QUAD2_ERGM2_HI, QUAD2_VC, QUAD2_VC_LO, QUAD2_VC_HI],
         yt=QUAD2_YTICKS, ytx=QUAD2_YTEXT, minor=[-0.375, -0.125, 0.125, 0.375, 0.625], yr=[-0.466, 0.742], box=(622.7, 983.5, 465, 816)),
    dict(d=[ER2_TRUE, ER2_ERGM, ER2_ERGM_LO, ER2_ERGM_HI, ER2_ERGM2, ER2_ERGM2_LO, ER2_ERGM2_HI, ER2_VC, ER2_VC_LO, ER2_VC_HI],
         yt=ER2_YTICKS, ytx=ER2_YTEXT, minor=[-0.5, -0.3, -0.1, 0.1, 0.3], yr=[-0.521, 0.364], box=(1108.3, 1483.5, 465, 816)),
    dict(d=[NS2_TRUE, NS2_ERGM, NS2_ERGM_LO, NS2_ERGM_HI, NS2_ERGM2, NS2_ERGM2_LO, NS2_ERGM2_HI, NS2_VC, NS2_VC_LO, NS2_VC_HI],
         yt=NS2_YTICKS, ytx=NS2_YTEXT, minor=[0.75, 1.25, 1.75, 2.25], yr=[0.395, 2.594], box=(1601, 1984, 465, 816)),
]

for pi, p in enumerate(panels):
    for ai, arr in enumerate(p["d"]):
        if len(arr) != 50:
            raise ValueError(f"panel {pi} array {ai} has length {len(arr)}")

fig = go.Figure()
layout = dict(
    width=W, height=H, margin=dict(l=0, r=0, t=0, b=0),
    paper_bgcolor="white", plot_bgcolor="#E5E5E5", showlegend=False,
    font=dict(family=FONT), annotations=[], shapes=[],
)

for k, p in enumerate(panels):
    xa = "x" if k == 0 else f"x{k+1}"
    ya = "y" if k == 0 else f"y{k+1}"
    x0, x1, y0, y1 = p["box"]
    tru, e, el, eh, g, gl, gh, v, vl, vh = p["d"]
    # bands
    for (lo, hi), col in zip([(el, eh), (gl, gh), (vl, vh)], BAND_COLORS):
        fig.add_trace(go.Scatter(
            x=TIME + TIME[::-1], y=hi + lo[::-1], fill="toself", fillcolor=col,
            mode="lines", line=dict(width=0, color="rgba(0,0,0,0)"),
            hoverinfo="skip", xaxis=xa, yaxis=ya))
    for vals, col in zip([e, g, v], LINE_COLORS):
        fig.add_trace(go.Scatter(x=TIME, y=vals, mode="lines",
                                 line=dict(color=col, width=2.4),
                                 xaxis=xa, yaxis=ya))
    fig.add_trace(go.Scatter(x=TIME, y=tru, mode="lines",
                             line=dict(color=TRUE_COLOR, width=2.6),
                             xaxis=xa, yaxis=ya))

    xkey = "xaxis" if k == 0 else f"xaxis{k+1}"
    ykey = "yaxis" if k == 0 else f"yaxis{k+1}"
    layout[xkey] = dict(
        domain=[x0 / W, x1 / W], anchor=ya, range=[0.5, 50.5],
        tickmode="array", tickvals=X_TICKS, ticktext=X_TICK_TEXT,
        ticks="outside", ticklen=7, tickwidth=2, tickcolor="#333333",
        tickfont=dict(size=23, color="#4D4D4D", family=FONT),
        showgrid=True, gridcolor="white", gridwidth=2.2,
        zeroline=False, showline=False, fixedrange=True,
        minor=dict(tickmode="array", tickvals=[0.55, 50.45], showgrid=True,
                   gridcolor="white", gridwidth=1.1, ticks=""),
    )
    layout[ykey] = dict(
        domain=[1 - y1 / H, 1 - y0 / H], anchor=xa, range=p["yr"],
        tickmode="array", tickvals=p["yt"], ticktext=p["ytx"],
        ticks="outside", ticklen=7, tickwidth=2, tickcolor="#333333",
        tickfont=dict(size=23, color="#4D4D4D", family=FONT),
        showgrid=True, gridcolor="white", gridwidth=2.2,
        zeroline=False, showline=False, fixedrange=True,
        minor=dict(tickmode="array", tickvals=p["minor"], showgrid=True,
                   gridcolor="white", gridwidth=1.1, ticks=""),
    )
    cx = (x0 + x1) / 2 / W
    # x-axis title
    ty = 424.6 if y1 < 500 else 874.6
    layout["annotations"].append(dict(
        text=X_TITLE, x=cx, y=1 - ty / H, xref="paper", yref="paper",
        xanchor="center", yanchor="middle", showarrow=False,
        font=dict(size=30, color="black", family=FONT)))
    if k < 4:
        layout["annotations"].append(dict(
            text=PANEL_TITLES[k], x=cx, y=1 - 29.5 / H, xref="paper", yref="paper",
            xanchor="center", yanchor="middle", showarrow=False,
            font=dict(size=36, color="black", family=FONT)))

# ---------------- legend (drawn manually) ----------------
LEG_Y = 960
layout["annotations"].append(dict(
    text=LEGEND_TITLE, x=723 / W, y=1 - LEG_Y / H, xref="paper", yref="paper",
    xanchor="left", yanchor="middle", showarrow=False,
    font=dict(size=30, color="black", family=FONT)))
key_left = [838, 971, 1118]
text_left = [890, 1023, 1170]
for m, kx, tx, lc, bc in zip(METHODS, key_left, text_left, LINE_COLORS, BAND_COLORS):
    layout["shapes"].append(dict(type="rect", xref="paper", yref="paper",
                                 x0=kx / W, x1=(kx + 45) / W,
                                 y0=1 - (LEG_Y + 24) / H, y1=1 - (LEG_Y - 24) / H,
                                 fillcolor="#F2F2F2", line=dict(width=0), layer="above"))
    layout["shapes"].append(dict(type="rect", xref="paper", yref="paper",
                                 x0=kx / W, x1=(kx + 45) / W,
                                 y0=1 - (LEG_Y + 24) / H, y1=1 - (LEG_Y - 24) / H,
                                 fillcolor=bc, line=dict(width=0), layer="above"))
    layout["shapes"].append(dict(type="line", xref="paper", yref="paper",
                                 x0=(kx + 3) / W, x1=(kx + 42) / W,
                                 y0=1 - LEG_Y / H, y1=1 - LEG_Y / H,
                                 line=dict(color=lc, width=3), layer="above"))
    layout["annotations"].append(dict(
        text=m, x=tx / W, y=1 - LEG_Y / H, xref="paper", yref="paper",
        xanchor="left", yanchor="middle", showarrow=False,
        font=dict(size=24, color="black", family=FONT)))

fig.update_layout(**layout)
fig.write_html("out.html")
